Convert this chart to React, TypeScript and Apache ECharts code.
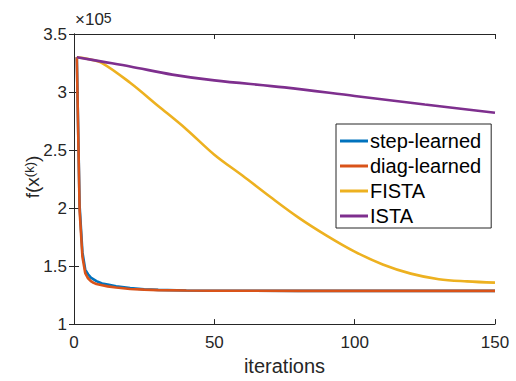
import React, { useEffect, useRef } from "react";
import * as echarts from "echarts";

// values in units of 1e5
const learnedIters = [1, 2, 3, 4, 5, 6, 7, 8, 10, 12, 15, 20, 25, 30, 40, 50, 60, 80, 100, 120, 150];
const stepLearned = [3.3, 2.02, 1.62, 1.47, 1.43, 1.4, 1.385, 1.37, 1.35, 1.34, 1.325, 1.31, 1.3, 1.295, 1.29, 1.288, 1.287, 1.286, 1.286, 1.286, 1.286];
const diagLearned = [3.3, 1.98, 1.58, 1.44, 1.395, 1.37, 1.355, 1.345, 1.335, 1.325, 1.315, 1.303, 1.297, 1.293, 1.29, 1.288, 1.287, 1.286, 1.286, 1.286, 1.286];

const fistaIters = [1, 5, 10, 20, 30, 40, 50, 60, 70, 80, 90, 100, 110, 120, 130, 140, 150];
const fista = [3.3, 3.285, 3.25, 3.08, 2.88, 2.68, 2.46, 2.28, 2.095, 1.918, 1.763, 1.625, 1.514, 1.435, 1.387, 1.368, 1.357];

const istaIters = [1, 10, 20, 35, 50, 75, 100, 125, 150];
const ista = [3.3, 3.262, 3.22, 3.15, 3.1, 3.04, 2.966, 2.893, 2.822];

const seriesNames = ["step-learned", "diag-learned", "FISTA", "ISTA"];
const seriesColors = ["#0072BD", "#D95319", "#EDB120", "#7E2F8E"];
const seriesSmooth = [false, false, 0.35, 0.35];

const xTicks = { min: 0, max: 150, interval: 50 };
const yTicks = { min: 1, max: 3.5, interval: 0.5 };

const FONT = "Liberation Sans";
const INK = "#262626";

const zip = (xs: number[], ys: number[]) => xs.map((x, i) => [x, ys[i]]);

export default function App() {
  const ref = useRef<HTMLDivElement>(null);
  useEffect(() => {
    document.body.style.margin = "0";
    if (!ref.current) return;
    const chart = echarts.init(ref.current, undefined, { renderer: "svg" });
    const axisCommon = {
      axisLine: { show: true, lineStyle: { color: INK, width: 1 } },
      axisTick: { show: true, inside: true, length: 5, lineStyle: { color: INK } },
      splitLine: { show: false },
    };
    const datas = [
      zip(learnedIters, stepLearned),
      zip(learnedIters, diagLearned),
      zip(fistaIters, fista),
      zip(istaIters, ista),
    ];
    chart.setOption({
      animation: false,
      backgroundColor: "#fff",
      grid: { left: 74, top: 34, right: 21, bottom: 52 },
      xAxis: [
        {
          type: "value",
          ...xTicks,
          position: "bottom",
          ...axisCommon,
          axisLabel: { color: INK, fontSize: 17, fontFamily: FONT, margin: 10 },
          name: "iterations",
          nameLocation: "middle",
          nameGap: 31,
          nameTextStyle: { color: INK, fontSize: 20, fontFamily: FONT },
        },
        {
          type: "value",
          ...xTicks,
          position: "top",
          ...axisCommon,
          axisLabel: { show: false },
        },
      ],
      yAxis: [
        {
          type: "value",
          ...yTicks,
          position: "left",
          ...axisCommon,
          axisLabel: { color: INK, fontSize: 17, fontFamily: FONT, margin: 7 },
        },
        {
          type: "value",
          ...yTicks,
          position: "right",
          ...axisCommon,
          axisLabel: { show: false },
        },
      ],
      legend: {
        orient: "vertical",
        left: 336,
        top: 124,
        data: seriesNames,
        backgroundColor: "#fff",
        borderColor: INK,
        borderWidth: 1,
        borderRadius: 0,
        padding: [7, 10, 2, 4],
        itemGap: 5,
        itemWidth: 28,
        itemHeight: 3,
        icon: "rect",
        textStyle: { color: "#000", fontSize: 20, fontFamily: FONT, padding: [0, 0, 0, -3] },
      },
      graphic: [
        {
          type: "text",
          left: 75,
          top: 11,
          style: {
            text: "{a|×10}{b|5}",
            rich: {
              a: { fontSize: 17, fontFamily: FONT, fill: INK, verticalAlign: "bottom" },
              b: { fontSize: 14, fontFamily: FONT, fill: INK, verticalAlign: "top" },
            },
          },
        },
        {
          type: "text",
          x: 32,
          y: 177,
          rotation: Math.PI / 2,
          style: {
            text: "{a|f(x}{b|(k)}{a|)}",
            align: "center",
            verticalAlign: "middle",
            rich: {
              a: { fontSize: 19, fontFamily: FONT, fill: INK, verticalAlign: "bottom" },
              b: { fontSize: 13, fontFamily: FONT, fill: INK, verticalAlign: "top" },
            },
          },
        },
      ],
      series: seriesNames.map((name, i) => ({
        name,
        type: "line",
        data: datas[i],
        showSymbol: false,
        symbol: "none",
        smooth: seriesSmooth[i],
        xAxisIndex: 0,
        yAxisIndex: 0,
        lineStyle: { color: seriesColors[i], width: 2.6 },
        itemStyle: { color: seriesColors[i] },
        z: 2 + i,
      })),
    });
    return () => chart.dispose();
  }, []);
  return <div ref={ref} style={{ width: 516, height: 381 }} />;
}
